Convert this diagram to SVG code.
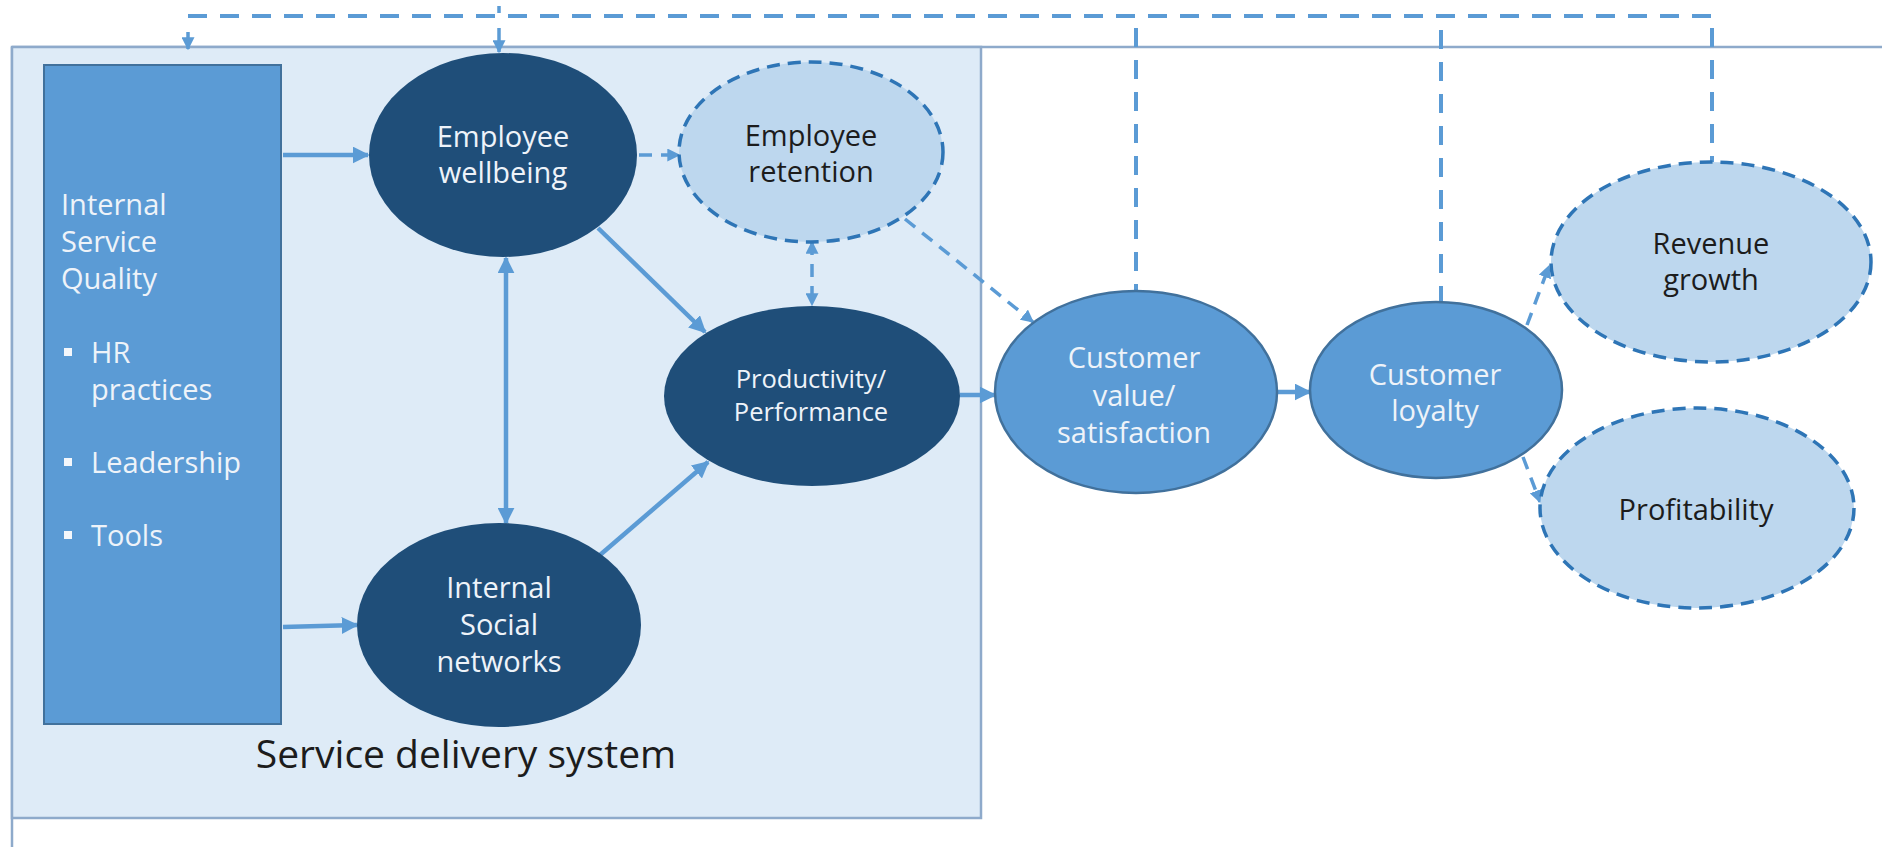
<svg xmlns="http://www.w3.org/2000/svg" width="1882" height="847" viewBox="0 0 1882 847">
  <defs>
    <marker id="ah" viewBox="0 0 10 10" refX="9" refY="5" markerWidth="17" markerHeight="17" markerUnits="userSpaceOnUse" orient="auto-start-reverse">
      <path d="M0,0 L10,5 L0,10 z" fill="#5b9bd5"/>
    </marker>
    <marker id="ahs" viewBox="0 0 10 10" refX="9" refY="5" markerWidth="13" markerHeight="13" markerUnits="userSpaceOnUse" orient="auto-start-reverse">
      <path d="M0,0 L10,5 L0,10 z" fill="#5b9bd5"/>
    </marker>
    <style>
      .frame { fill: none; stroke: #8eaacb; stroke-width: 2.5; }
      .system { fill: #deebf7; stroke: #8eaacb; stroke-width: 2.5; }
      .isq { fill: #5b9bd5; stroke: #41719c; stroke-width: 2; }
      .core { fill: #1f4e79; }
      .cust { fill: #5b9bd5; stroke: #41719c; stroke-width: 2.5; }
      .outcome { fill: #bdd7ee; stroke: #2e75b6; stroke-width: 3.5; stroke-dasharray: 13 8; }
      .solid { fill: none; stroke: #5b9bd5; stroke-width: 4.5; }
      .dash { fill: none; stroke: #5b9bd5; stroke-width: 3.5; stroke-dasharray: 13 9; }
      .loop { fill: none; stroke: #5b9bd5; stroke-width: 4; stroke-dasharray: 19 13; }
      .tick { fill: none; stroke: #5b9bd5; stroke-width: 3.5; }
      text { font-family: "Open Sans", "Liberation Sans", sans-serif; font-size: 29px; }
      .c { text-anchor: middle; }
      .light { fill: #eef3f9; }
      .dark { fill: #1c1c1c; }
      .bullet { fill: #f4f7fb; }
    </style>
  </defs>

  <!-- page frame and service delivery system boundary -->
  <g id="frame">
    <line class="frame" x1="12" y1="47" x2="1882" y2="47"/>
    <line class="frame" x1="12" y1="47" x2="12" y2="847"/>
    <rect class="system" x="12" y="47" width="969" height="771"/>
    <text x="466" y="768" class="c dark" style="font-size:39px">Service delivery system</text>
  </g>

  <!-- connectors -->
  <g id="connectors">
    <!-- solid links inside the system -->
    <line class="solid" x1="283" y1="155" x2="368" y2="155" marker-end="url(#ah)"/>
    <line class="solid" x1="283" y1="627" x2="357" y2="625" marker-end="url(#ah)"/>
    <line class="solid" x1="506" y1="258" x2="506" y2="523" marker-start="url(#ah)" marker-end="url(#ah)"/>
    <line class="solid" x1="598" y1="228" x2="705" y2="332" marker-end="url(#ah)"/>
    <line class="solid" x1="600" y1="555" x2="708" y2="462" marker-end="url(#ah)"/>
    <line class="solid" x1="960" y1="395" x2="995" y2="395" marker-end="url(#ah)"/>
    <line class="solid" x1="1277" y1="392" x2="1310" y2="392" marker-end="url(#ah)"/>
    <!-- dashed links -->
    <line class="dash" x1="639" y1="155" x2="679" y2="155" marker-end="url(#ahs)"/>
    <line class="dash" x1="812" y1="242" x2="812" y2="305" marker-start="url(#ahs)" marker-end="url(#ahs)"/>
    <line class="dash" x1="905" y1="219" x2="1033" y2="322" marker-end="url(#ahs)"/>
    <line class="dash" x1="1527" y1="325" x2="1549" y2="266" marker-end="url(#ahs)"/>
    <line class="dash" x1="1523" y1="457" x2="1540" y2="502" marker-end="url(#ahs)"/>
    <!-- feedback loop along the top -->
    <polyline class="loop" points="188,16 1712,16 1712,162"/>
    <line class="loop" x1="1136" y1="28" x2="1136" y2="291"/>
    <line class="loop" x1="1441" y1="30" x2="1441" y2="302"/>
    <line class="tick" x1="188" y1="32" x2="188" y2="49" marker-end="url(#ahs)"/>
    <line class="tick" x1="499" y1="6" x2="499" y2="13"/>
    <line class="tick" x1="499" y1="28" x2="499" y2="52" marker-end="url(#ahs)"/>
  </g>

  <g id="internal-service-quality">
    <rect class="isq" x="44" y="65" width="237" height="659"/>
    <text x="61" y="215" class="light">Internal</text>
    <text x="61" y="252" class="light">Service</text>
    <text x="61" y="289" class="light">Quality</text>
    <rect class="bullet" x="64" y="348" width="8" height="8"/>
    <text x="91" y="363" class="light">HR</text>
    <text x="91" y="400" class="light">practices</text>
    <rect class="bullet" x="64" y="458" width="8" height="8"/>
    <text x="91" y="473" class="light">Leadership</text>
    <rect class="bullet" x="64" y="531" width="8" height="8"/>
    <text x="91" y="546" class="light">Tools</text>
  </g>

  <g id="employee-wellbeing">
    <ellipse class="core" cx="503" cy="155" rx="134" ry="102"/>
    <text x="503" y="147" class="c light">Employee</text>
    <text x="503" y="183" class="c light">wellbeing</text>
  </g>

  <g id="employee-retention">
    <ellipse class="outcome" cx="811" cy="152" rx="132" ry="90"/>
    <text x="811" y="146" class="c dark">Employee</text>
    <text x="811" y="182" class="c dark">retention</text>
  </g>

  <g id="productivity">
    <ellipse class="core" cx="812" cy="396" rx="148" ry="90"/>
    <text x="811" y="388" class="c light" style="font-size:25.5px">Productivity/</text>
    <text x="811" y="421" class="c light" style="font-size:25.5px">Performance</text>
  </g>

  <g id="internal-social-networks">
    <ellipse class="core" cx="499" cy="625" rx="142" ry="102"/>
    <text x="499" y="598" class="c light">Internal</text>
    <text x="499" y="635" class="c light">Social</text>
    <text x="499" y="672" class="c light">networks</text>
  </g>

  <g id="customer-value">
    <ellipse class="cust" cx="1136" cy="392" rx="141" ry="101"/>
    <text x="1134" y="368" class="c light">Customer</text>
    <text x="1134" y="406" class="c light">value/</text>
    <text x="1134" y="443" class="c light">satisfaction</text>
  </g>

  <g id="customer-loyalty">
    <ellipse class="cust" cx="1436" cy="390" rx="126" ry="88"/>
    <text x="1435" y="385" class="c light">Customer</text>
    <text x="1435" y="421" class="c light">loyalty</text>
  </g>

  <g id="revenue-growth">
    <ellipse class="outcome" cx="1711" cy="262" rx="160" ry="100"/>
    <text x="1711" y="254" class="c dark">Revenue</text>
    <text x="1711" y="290" class="c dark">growth</text>
  </g>

  <g id="profitability">
    <ellipse class="outcome" cx="1697" cy="508" rx="157" ry="100"/>
    <text x="1696" y="520" class="c dark">Profitability</text>
  </g>
</svg>
